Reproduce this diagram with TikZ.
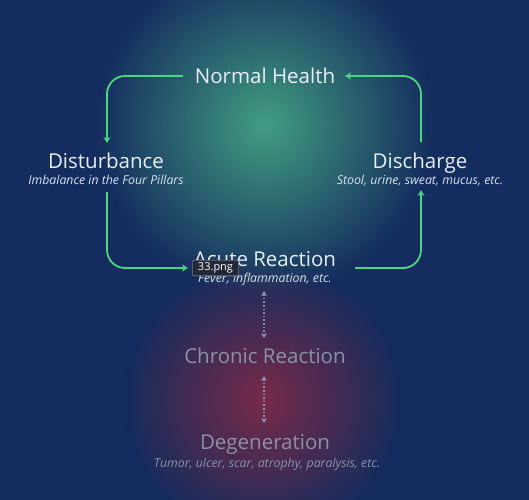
\documentclass[tikz,border=0pt]{standalone}
\usepackage{fontspec}
\setmainfont{Open Sans}
\usetikzlibrary{arrows.meta,fadings}
\definecolor{bg}{RGB}{20,44,94}
\definecolor{glowg}{RGB}{66,158,130}
\definecolor{glowr}{RGB}{120,42,72}
\definecolor{arrowg}{RGB}{74,214,130}
\definecolor{titlew}{RGB}{232,238,245}
\definecolor{subw}{RGB}{215,225,238}
\definecolor{dimg}{RGB}{138,146,166}
\definecolor{tagfill}{RGB}{34,40,54}
\tikzfading[name=glowfade, inner color=transparent!0, outer color=transparent!100]
\tikzset{
  title/.style={text=titlew, font=\fontsize{20.5}{23}\selectfont, inner sep=1pt, text height=16pt, text depth=2pt},
  subtitle/.style={text=subw, font=\fontsize{12.3}{14}\selectfont\itshape, inner sep=1pt, text height=9.5pt, text depth=1.5pt},
  dimtitle/.style={title, text=dimg},
  dimsub/.style={subtitle, text=dimg},
  flow/.style={draw=arrowg, line width=1.8pt, rounded corners=18pt, -{Stealth[length=6pt,width=7pt]}},
  chronic/.style={draw=dimg, line width=1.6pt, dotted, {Stealth[length=5pt,width=6pt]}-{Stealth[length=5pt,width=6pt]}},
  tagbox/.style={fill=tagfill, draw=gray!60, line width=0.4pt, text=white, font=\fontsize{11}{13}\selectfont, inner xsep=5.5pt, inner ysep=2.5pt, rounded corners=1pt}
}
\begin{document}
\begin{tikzpicture}[x=1pt,y=-1pt]
\useasboundingbox (0,0) rectangle (529,499);
\clip (0,0) rectangle (529,499);
\fill[bg] (-5,-5) rectangle (534,504);
\fill[glowr, path fading=glowfade] (263,400) circle (140);
\fill[glowg, path fading=glowfade] (265,125) circle (170);
% nodes
\node[title] (nh) at (265,76) {Normal Health};
\node[title] (dist) at (106,161) {Disturbance};
\node[subtitle] (distsub) at (106,180) {Imbalance in the Four Pillars};
\node[title] (disc) at (420,161) {Discharge};
\node[subtitle] (discsub) at (420,180) {Stool, urine, sweat, mucus, etc.};
\node[title] (acute) at (265,259) {Acute Reaction};
\node[subtitle] (acutesub) at (265,278) {Fever, inflammation, etc.};
\node[dimtitle] (chron) at (265,356) {Chronic Reaction};
\node[dimtitle] (degen) at (265,442) {Degeneration};
\node[dimsub] (degensub) at (267,463) {Tumor, ulcer, scar, atrophy, paralysis, etc.};
% coordinates
\coordinate (a1) at (183,76);
\coordinate (a1e) at (107,143);
\coordinate (a2) at (107,192);
\coordinate (a2e) at (188,268);
\coordinate (a3) at (355,268);
\coordinate (a3e) at (421,190);
\coordinate (a4) at (421,142);
\coordinate (a4e) at (345,76);
\draw[flow] (a1) -| (a1e);
\draw[flow] (a2) |- (a2e);
\draw[flow] (a3) -| (a3e);
\draw[flow] (a4) |- (a4e);
% dotted links
\coordinate (d1s) at (264,291);
\coordinate (d1e) at (264,338);
\coordinate (d2s) at (264,376);
\coordinate (d2e) at (264,423);
\draw[chronic] (d1s) -- (d1e);
\draw[chronic] (d2s) -- (d2e);
% overlay tag
\node[tagbox] (tag) at (215.5,268) {33.png};
\end{tikzpicture}
\end{document}
